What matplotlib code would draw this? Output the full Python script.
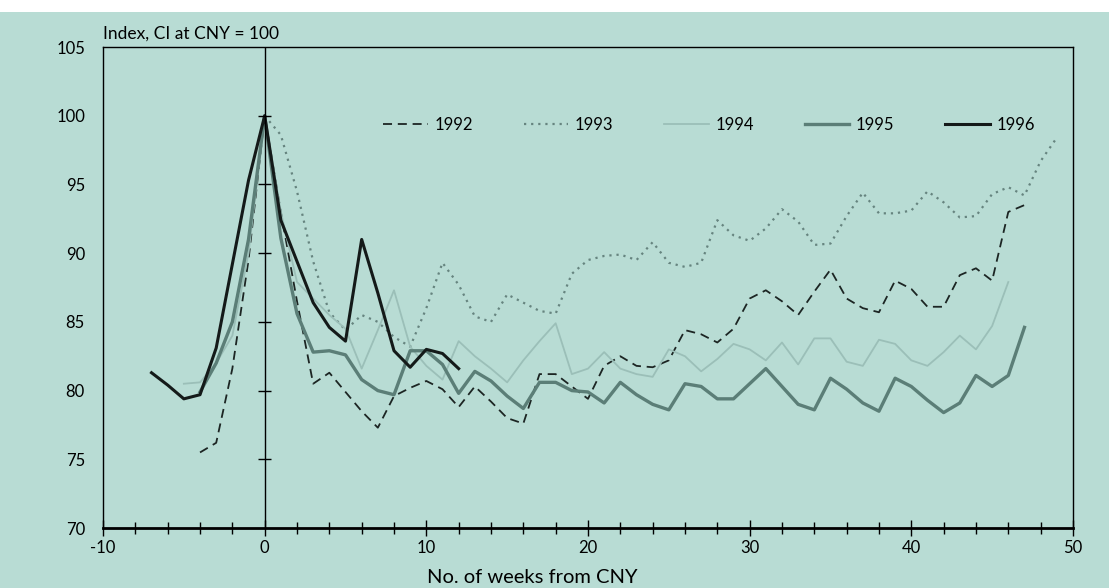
import numpy as np
import matplotlib
matplotlib.use("Agg")
import matplotlib.pyplot as plt
from matplotlib.patches import Rectangle

plt.rcParams['font.family'] = ['Lato', 'DejaVu Sans']
plt.rcParams['axes.unicode_minus'] = False

# weekly index, CI at Chinese New Year = 100
weeks_92 = list(range(-4, 48))
vals_92 = [75.5, 76.2, 81.6, 89.5, 100, 93.0, 86.5, 80.5, 81.3, 79.9, 78.5, 77.3,
           79.6, 80.2, 80.7, 80.1, 78.8, 80.3, 79.2, 78.0, 77.6, 81.2, 81.2, 80.3,
           79.4, 81.8, 82.5, 81.8, 81.7, 82.2, 84.4, 84.1, 83.5, 84.5, 86.7, 87.3,
           86.5, 85.5, 87.2, 88.8, 86.7, 86.0, 85.7, 88.0, 87.4, 86.1, 86.1, 88.4,
           88.9, 88.0, 93.0, 93.5]

weeks_93 = list(range(0, 50))
vals_93 = [100, 98.6, 94.5, 89.4, 85.7, 84.4, 85.5, 85.0, 83.9, 83.2, 86.0, 89.3,
           87.7, 85.4, 85.0, 87.0, 86.4, 85.8, 85.6, 88.5, 89.5, 89.8, 89.9, 89.5,
           90.8, 89.3, 89.0, 89.3, 92.4, 91.3, 90.9, 91.8, 93.2, 92.3, 90.6, 90.7,
           92.7, 94.4, 92.9, 92.9, 93.1, 94.5, 93.7, 92.6, 92.7, 94.3, 94.8, 94.2,
           96.7, 98.4]

weeks_94 = list(range(-5, 47))
vals_94 = [80.5, 80.6, 82.0, 84.0, 90.0, 100, 93.0, 87.9, 86.7, 85.5, 84.5, 81.6,
           84.4, 87.3, 83.2, 81.8, 80.8, 83.6, 82.5, 81.6, 80.6, 82.2, 83.6, 84.9,
           81.2, 81.6, 82.8, 81.6, 81.2, 81.0, 83.0, 82.5, 81.4, 82.3, 83.4, 83.0,
           82.2, 83.5, 81.9, 83.8, 83.8, 82.1, 81.8, 83.7, 83.4, 82.2, 81.8, 82.8,
           84.0, 83.0, 84.7, 87.9]

weeks_95 = list(range(-4, 48))
vals_95 = [79.9, 82.0, 85.0, 91.0, 100, 91.1, 85.6, 82.8, 82.9, 82.6, 80.8, 80.0,
           79.7, 82.9, 82.9, 81.9, 79.8, 81.4, 80.7, 79.6, 78.7, 80.6, 80.6, 80.0,
           79.9, 79.1, 80.6, 79.7, 79.0, 78.6, 80.5, 80.3, 79.4, 79.4, 80.5, 81.6,
           80.3, 79.0, 78.6, 80.9, 80.1, 79.1, 78.5, 80.9, 80.3, 79.3, 78.4, 79.1,
           81.1, 80.3, 81.1, 84.6]

weeks_96 = list(range(-7, 13))
vals_96 = [81.3, 80.4, 79.4, 79.7, 83.1, 89.2, 95.3, 100, 92.4, 89.4, 86.4, 84.6,
           83.6, 91.0, 87.1, 82.9, 81.7, 83.0, 82.7, 81.6]

bg = '#b8dcd4'

fig = plt.figure(figsize=(11.09, 5.88), dpi=100, facecolor=bg)
ax = fig.add_axes([0.0929, 0.102, 0.8746, 0.818])
ax.set_facecolor(bg)

# white strip of the page above the panel
fig.patches.append(Rectangle((0, 1 - 12 / 588), 1, 12 / 588, transform=fig.transFigure,
                             facecolor='white', edgecolor='none'))

ax.plot(weeks_92, vals_92, color='#1c2523', lw=1.3, dashes=(5, 3.2), label='1992')
ax.plot(weeks_93, vals_93, color='#66847f', lw=1.6, linestyle=(0, (1, 2.2)), label='1993')
ax.plot(weeks_94, vals_94, color='#9bbfb8', lw=1.3, label='1994')
ax.plot(weeks_95, vals_95, color='#5b7e77', lw=2.4, label='1995')
ax.plot(weeks_96, vals_96, color='#141a19', lw=2.2, label='1996')

ax.set_xlim(-10, 50)
ax.set_ylim(70, 105)

# vertical axis at CNY (week 0) with its own ticks
ax.axvline(0, color='black', lw=1.0)
yt = np.arange(75, 101, 5)
ax.hlines(yt, -0.4, 0.4, color='black', lw=1.0)

ax.set_xticks(np.arange(-10, 51, 10))
ax.set_xticks(np.arange(-10, 51, 2), minor=True)
ax.set_yticks(np.arange(70, 106, 5))
ax.tick_params(axis='x', which='major', direction='inout', length=11, width=1.0,
               labelsize=12, pad=3)
ax.tick_params(axis='x', which='minor', direction='inout', length=9, width=1.0)
ax.tick_params(axis='y', length=0, labelsize=12, pad=13)

for s in ['left', 'top', 'right']:
    ax.spines[s].set_linewidth(1.0)
ax.spines['bottom'].set_linewidth(2.0)

ax.set_xlabel('No. of weeks from CNY', fontsize=14.5)
ax.xaxis.set_label_coords(0.443, -0.085)
ax.text(0.0, 1.012, 'Index, CI at CNY = 100', transform=ax.transAxes,
        fontsize=12.5, ha='left', va='bottom')

ax.legend(loc='center left', bbox_to_anchor=(0.289, 0.838), ncol=5, frameon=False,
          fontsize=12, handlelength=2.65, handletextpad=0.42, columnspacing=3.05,
          borderpad=0, borderaxespad=0)

fig.savefig('out.png', dpi=100, facecolor=bg)
